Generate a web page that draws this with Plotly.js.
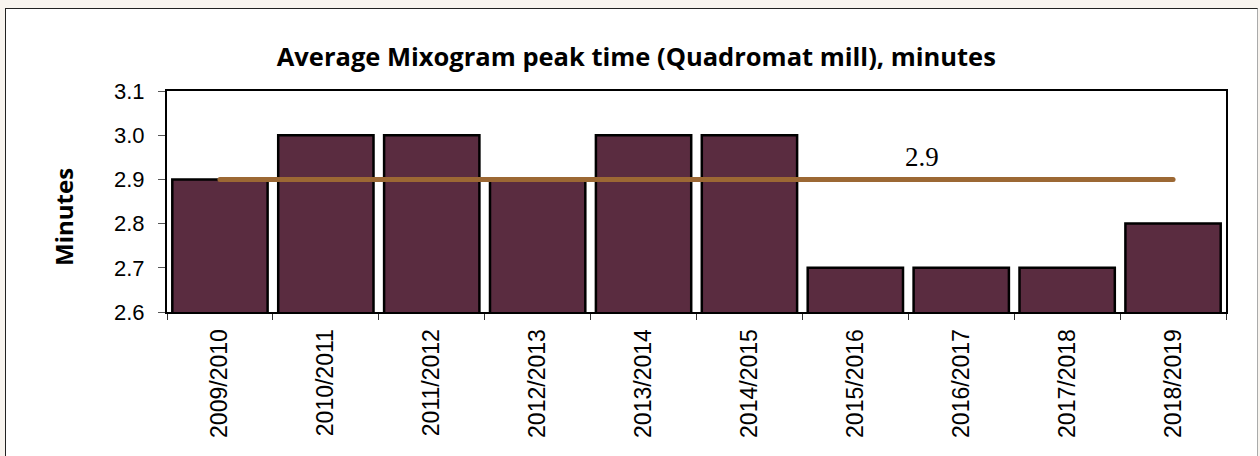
<!DOCTYPE html>
<html><head><meta charset="utf-8">
<script src="https://cdn.plot.ly/plotly-3.0.1.min.js"></script>
<style>
html,body{margin:0;padding:0;background:#f8f4ef;width:1260px;height:456px;overflow:hidden;}
#frame{position:absolute;left:5px;top:8px;width:1251px;height:460px;background:#fff;border:1px solid #222;border-right-color:#aaa;}
#chart{position:absolute;left:0;top:0;width:1260px;height:456px;}
#chart .scatterlayer .js-line{stroke-linecap:round !important;}
</style></head>
<body><div id="frame"></div><div id="chart"></div>
<script>
const seasons = ["2009/2010","2010/2011","2011/2012","2012/2013","2013/2014","2014/2015","2015/2016","2016/2017","2017/2018","2018/2019"];
const peakTime = [2.9,3.0,3.0,2.9,3.0,3.0,2.7,2.7,2.7,2.8];
const averageValue = 2.9;
const averageLabel = "2.9";

const bars = {
  type:"bar", x:seasons, y:peakTime,
  marker:{color:"#5a2c40", line:{color:"#000", width:2.5}},
  width:0.9, hoverinfo:"x+y"
};
const avg = {
  type:"scatter", mode:"lines", x:[seasons[0], seasons[seasons.length-1]], y:[averageValue, averageValue],
  line:{color:"#9c6834", width:5}, hoverinfo:"skip"
};
const layout = {
  width:1260, height:456,
  paper_bgcolor:"rgba(0,0,0,0)", plot_bgcolor:"#fff",
  margin:{l:167, r:34, t:91, b:144},
  showlegend:false,
  bargap:0.1,
  title:{text:"<b>Average Mixogram peak time (Quadromat mill), minutes</b>", x:0.505, xanchor:"center", y:0.875, yanchor:"middle",
    font:{family:"Open Sans, Liberation Sans, sans-serif", size:25.5, color:"#000"}},
  xaxis:{type:"category", tickson:"boundaries", ticks:"outside", ticklen:6, tickcolor:"#333", tickangle:-90,
    showline:true, linecolor:"#000", linewidth:2, mirror:true, showgrid:false, ticklabelstandoff:6,
    tickfont:{family:"Liberation Sans, Arial, sans-serif", size:23, color:"#000"}},
  yaxis:{range:[2.6,3.1], dtick:0.1, tickformat:".1f", ticks:"outside", ticklen:7, tickcolor:"#555",
    showline:true, linecolor:"#000", linewidth:2, mirror:true, showgrid:false, zeroline:false, ticklabelstandoff:9,
    tickfont:{family:"Liberation Sans, Arial, sans-serif", size:22, color:"#000"}},
  annotations:[
    {x:6.63, y:2.951, xref:"x", yref:"y", text:averageLabel, showarrow:false,
     font:{family:"Liberation Serif, Times New Roman, serif", size:27, color:"#000"}},
    {x:-0.0973, y:0.43, xref:"paper", yref:"paper", text:"<b>Minutes</b>", textangle:-90, showarrow:false,
     xanchor:"center", yanchor:"middle",
     font:{family:"Open Sans, Liberation Sans, sans-serif", size:24, color:"#000"}}
  ]
};
Plotly.newPlot("chart",[bars,avg],layout,{displayModeBar:false});
</script></body></html>
